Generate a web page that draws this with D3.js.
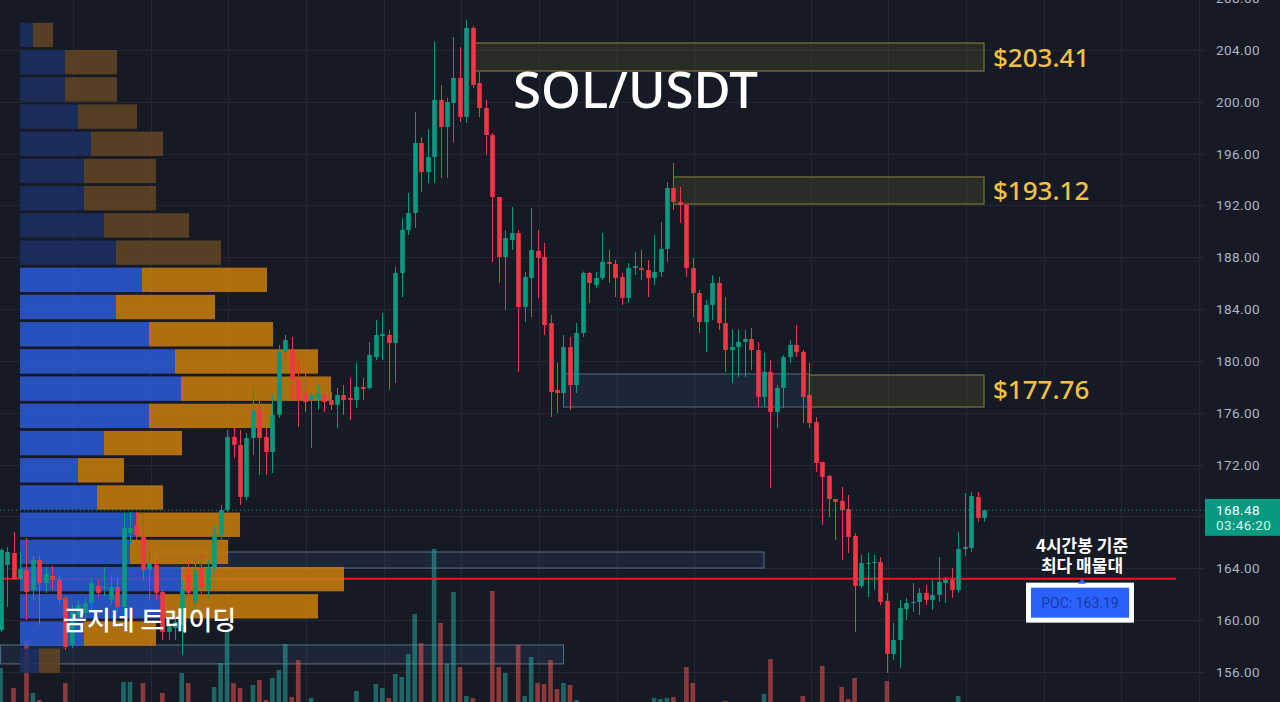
<!DOCTYPE html>
<html>
<head>
<meta charset="utf-8">
<script src="https://cdn.jsdelivr.net/npm/d3@7"></script>
<style>
  html, body { margin: 0; padding: 0; background: #161a25; overflow: hidden; }
  svg { display: block; }
</style>
</head>
<body>
<svg id="chart" width="1280" height="702"></svg>
<script>
// ---- SOL/USDT 4h candles (oldest -> newest) ----
const opens = [
  159.23,164.25,165.17,163.24,163.86,162.32,164.63,162.86,163.40,163.09,
  161.70,158.07,160.39,160.54,161.31,162.63,162.47,161.55,162.55,161.01,
  166.72,167.33,166.41,163.86,164.25,162.16,159.08,159.38,159.62,163.48,
  161.31,164.09,162.32,164.09,166.56,168.49,174.13,173.51,169.50,174.05,
  176.21,174.13,172.97,175.83,180.69,180.84,178.53,177.52,176.98,176.98,
  177.37,176.98,176.60,177.37,177.14,176.98,177.99,177.91,180.30,181.92,
  182.00,181.38,186.79,190.11,191.42,196.82,194.58,195.74,200.14,198.06,
  199.91,201.84,198.83,205.70,201.45,199.52,197.44,192.65,188.02,189.33,
  189.87,184.16,186.40,188.49,188.02,182.92,177.76,177.52,181.07,178.14,
  182.15,186.79,185.86,186.40,187.64,187.48,186.48,184.86,187.17,187.17,
  187.02,186.40,186.86,188.64,193.35,192.27,192.04,187.17,185.24,183.00,
  184.32,186.02,182.92,180.84,181.07,181.46,181.69,180.84,177.22,179.15,
  176.06,177.91,180.30,181.23,180.69,177.37,175.28,172.20,171.12,169.34,
  169.19,168.57,166.49,162.63,164.32,164.40,164.48,161.47,157.38,158.46,
  160.85,161.31,161.39,162.09,161.55,161.93,162.86,163.09,162.32,165.48,
  165.56,169.50,167.88
];
const highs = [
  165.56,165.64,166.79,165.25,166.33,164.94,164.94,164.09,164.17,163.40,
  161.85,161.16,161.55,161.70,163.24,163.09,164.09,163.48,163.24,168.26,
  168.34,168.34,168.26,165.40,164.63,162.32,160.00,160.77,163.09,164.40,
  164.63,165.02,164.63,167.33,168.88,174.67,174.82,174.67,174.44,178.14,
  176.98,174.82,177.37,181.23,182.00,181.85,180.07,179.07,177.60,178.14,
  177.52,177.60,177.91,178.14,178.68,179.84,178.68,181.46,183.16,183.70,
  182.39,187.25,191.03,192.96,199.21,197.28,197.83,204.62,201.30,200.30,
  205.00,204.23,206.32,205.85,202.30,200.14,197.59,192.65,190.11,191.88,
  190.11,186.86,191.80,190.11,189.10,183.54,179.84,182.00,181.85,182.92,
  186.90,186.86,186.86,189.87,188.56,187.79,186.79,187.56,188.41,188.56,
  187.79,189.72,190.72,193.81,195.28,193.43,192.10,187.94,185.47,184.70,
  186.63,186.48,184.93,182.39,182.39,182.39,182.54,181.46,180.61,180.07,
  178.14,180.46,181.61,182.77,180.84,179.84,175.67,172.20,171.19,169.34,
  170.27,169.65,166.72,165.02,165.17,165.02,164.86,162.09,159.77,161.55,
  161.70,162.86,162.47,162.70,163.09,164.86,163.32,164.01,166.79,169.80,
  169.88,169.88,168.49
];
const lows = [
  159.08,161.01,163.09,163.09,160.00,161.55,159.62,162.09,162.32,161.16,
  157.69,157.84,160.00,160.23,160.77,161.78,161.78,161.16,160.62,160.23,
  165.79,166.18,163.09,161.55,161.55,158.46,158.46,158.46,157.30,161.70,
  160.62,161.93,161.70,163.71,166.18,168.34,172.51,168.88,169.26,172.74,
  171.19,171.19,171.35,175.59,180.07,176.98,174.90,176.06,173.28,176.21,
  176.06,176.21,174.82,175.83,175.44,176.37,176.98,177.76,180.07,180.07,
  177.76,178.30,184.93,189.72,190.26,193.04,193.73,193.73,194.12,194.12,
  196.90,198.44,198.37,201.07,198.83,195.89,187.64,186.02,183.93,188.56,
  179.15,183.00,183.39,184.86,182.00,175.67,175.98,176.75,176.21,177.52,
  181.85,184.47,185.63,186.25,186.02,184.93,184.32,184.47,186.63,186.25,
  184.93,185.86,186.48,187.64,191.65,190.65,186.48,183.39,182.15,180.69,
  183.16,182.39,179.15,178.30,178.76,178.76,179.30,176.44,176.44,170.19,
  174.82,176.37,179.84,180.30,175.21,174.82,171.43,167.33,167.95,166.18,
  164.63,165.17,159.08,162.47,161.78,162.32,161.16,155.91,156.91,156.30,
  160.00,160.62,160.39,161.16,160.77,161.39,161.31,161.70,162.09,164.94,
  165.25,167.57,167.57
];
const closes = [
  165.40,165.25,163.17,163.94,162.16,164.63,162.86,163.55,163.09,161.55,
  157.92,160.62,161.16,161.31,162.86,162.09,162.55,162.55,161.01,167.10,
  167.10,166.56,163.86,164.40,162.09,159.08,159.46,159.85,162.32,162.09,
  163.86,162.47,164.01,166.56,168.49,174.13,173.51,169.50,174.05,176.21,
  174.05,172.97,175.83,180.69,181.61,178.53,176.98,176.83,177.37,177.52,
  176.83,176.60,177.37,176.98,176.98,177.99,177.83,180.46,182.00,182.08,
  181.38,186.79,190.11,191.42,196.82,194.58,195.74,200.14,198.06,199.99,
  201.84,198.83,205.70,201.30,199.52,197.44,192.65,188.02,189.49,189.87,
  184.16,186.48,188.56,187.94,182.77,177.60,177.52,181.07,178.14,182.15,
  186.79,186.02,186.40,187.64,187.48,186.40,184.86,187.17,187.33,187.02,
  186.40,186.86,188.64,193.35,192.27,192.04,187.17,185.24,183.00,184.32,
  186.02,182.92,180.84,181.07,181.46,181.69,180.84,177.22,179.15,176.06,
  177.91,180.30,181.23,180.69,177.22,175.21,172.12,171.04,169.34,169.11,
  168.49,166.41,162.63,164.40,164.40,164.48,161.39,157.38,158.46,160.93,
  161.31,161.39,162.09,161.55,161.93,162.94,163.09,162.32,165.48,165.64,
  169.57,167.88,168.48
];
// traded volume per candle (K SOL)
const volumes = [
  44,6,24,7,72,19,12,5,6,8,
  29,7,5,6,8,4,6,5,7,30,
  30,8,29,6,9,19,5,7,39,29,
  8,6,9,25,49,82,29,24,9,27,
  32,12,34,42,68,15,52,8,14,6,
  5,7,8,6,5,21,7,9,28,24,
  14,38,35,58,98,69,9,163,89,48,
  120,45,16,14,9,8,121,45,39,8,
  67,16,55,29,28,52,23,29,27,12,
  9,6,5,7,5,6,8,7,4,5,
  6,14,13,14,15,9,45,29,8,7,
  6,9,11,5,4,6,7,9,18,53,
  8,7,5,6,16,9,8,46,9,7,
  25,13,34,8,6,5,9,31,8,9,
  6,5,7,6,5,8,6,7,16,9,
  9,8,4
];

// ---- session volume profile, 24 price rows from lowest to highest ----
const profileUp   = [19,64,144,161,110,116,77,58,84,129,161,155,129,96,122,96,84,64,64,71,58,45,45,13];
const profileDown = [21,72,154,163,98,104,66,46,78,123,150,143,124,99,125,105,85,72,72,72,59,52,52,20];
const valueAreaShare = 0.70;
const pocValue = 163.19;

// ---- price axis ticks and day separators (candle index) ----
const priceTicks = [156,160,164,168,172,176,180,184,188,192,196,200,204,208];
const dayBreaks = [11.2,23.2,35.2,47.2,59.2,71.2,83.2,95.2,107.2,125.2,137.2,149.2,161.2,173.2,185.2];

// ---- marked zones (start candle index, price low, price high) ----
const resistanceZones = [
  { from: 73,  low: 202.38, high: 204.54, label: 203.41 },
  { from: 104, low: 192.11, high: 194.20, label: 193.12 },
  { from: 125, low: 176.44, high: 178.91, label: 177.76 }
];
const supportZones = [
  { from: 87, to: 125, low: 176.44, high: 178.99 },
  { from: 24, to: 118, low: 164.01, high: 165.25 },
  { from: 0,  to: 87,  low: 156.61, high: 158.07 }
];

const symbolName = "SOL/USDT";
const brandName = "곰지네 트레이딩";
const pocNote = ["4시간봉 기준", "최다 매물대"];
const countdown = "03:46:20";

// ---------------------------------------------------------------
const W = 1280, H = 702;
const axisLeft = 1205;
const N = closes.length;
const UP = "#089981", DOWN = "#f23645";
const latin = "'Noto Sans', 'Open Sans', sans-serif";
const korean = "'Noto Sans CJK KR', 'Noto Sans', sans-serif";
const axisFont = "Roboto, 'Noto Sans', sans-serif";

const svg = d3.select("#chart");
svg.append("rect").attr("width", W).attr("height", H).attr("fill", "#161a25");

const x = d3.scaleLinear().domain([0, N - 1]).range([0.6, 984]);
const y = d3.scaleLinear().domain([156, 204]).range([671.8, 50]);
const vy = d3.scaleLinear().domain([0, d3.max(volumes)]).range([712, 549]);
const bodyW = 4.6;

// grid
const grid = svg.append("g").attr("stroke", "#232734").attr("stroke-width", 1);
grid.selectAll("line.h").data(priceTicks).join("line")
  .attr("x1", 0).attr("x2", axisLeft)
  .attr("y1", d => Math.round(y(d)) + 0.5).attr("y2", d => Math.round(y(d)) + 0.5);
grid.selectAll("line.v").data(dayBreaks).join("line")
  .attr("y1", 0).attr("y2", H)
  .attr("x1", d => Math.round(x(d)) + 0.5).attr("x2", d => Math.round(x(d)) + 0.5);

// zones
const zones = svg.append("g");
zones.selectAll("rect.sup").data(supportZones).join("rect")
  .attr("x", d => x(d.from)).attr("width", d => x(d.to) - x(d.from))
  .attr("y", d => y(d.high)).attr("height", d => y(d.low) - y(d.high))
  .attr("fill", "rgba(52,90,140,0.20)").attr("stroke", "#566d86").attr("stroke-width", 1);
zones.selectAll("rect.res").data(resistanceZones).join("rect")
  .attr("x", d => x(d.from)).attr("width", d => x(N - 1) - x(d.from))
  .attr("y", d => y(d.high)).attr("height", d => y(d.low) - y(d.high))
  .attr("fill", "rgba(120,115,40,0.20)").attr("stroke", "#8a873c").attr("stroke-width", 1);

// volume histogram
const candles = d3.range(N).map(i => ({
  i, o: opens[i], h: highs[i], l: lows[i], c: closes[i], v: volumes[i], up: closes[i] >= opens[i]
}));
svg.append("g").selectAll("rect").data(candles).join("rect")
  .attr("x", d => x(d.i) - bodyW / 2).attr("width", bodyW)
  .attr("y", d => vy(d.v)).attr("height", d => vy(0) - vy(d.v))
  .attr("fill", d => d.up ? "#26a69a" : "#ef5350").attr("opacity", 0.55);

// point of control line
svg.append("line")
  .attr("x1", 0).attr("x2", 1176)
  .attr("y1", y(pocValue)).attr("y2", y(pocValue))
  .attr("stroke", "#f0141e").attr("stroke-width", 2);

// volume profile rows
const pLow = d3.min(lows), pHigh = d3.max(highs);
const rows = profileUp.length;
const rowSize = (pHigh - pLow) / rows;
const totals = profileUp.map((u, k) => u + profileDown[k]);
const pocRow = d3.maxIndex(totals);
// value area: grow from the POC row toward the heavier neighbour until the share is reached
let lo = pocRow, hi = pocRow, acc = totals[pocRow];
const target = d3.sum(totals) * valueAreaShare;
while (acc < target && (lo > 0 || hi < rows - 1)) {
  const below = lo > 0 ? totals[lo - 1] : -1;
  const above = hi < rows - 1 ? totals[hi + 1] : -1;
  if (above >= below) { hi++; acc += totals[hi]; } else { lo--; acc += totals[lo]; }
}
const px = d3.scaleLinear().domain([0, d3.max(totals)]).range([0, 324]);
const profLeft = 20;
const profRows = d3.range(rows).map(k => ({
  k, up: profileUp[k], down: profileDown[k],
  top: y(pLow + (k + 1) * rowSize), bottom: y(pLow + k * rowSize),
  inVA: k >= lo && k <= hi
}));
const prof = svg.append("g").attr("opacity", 0.86);
prof.selectAll("rect.up").data(profRows).join("rect")
  .attr("x", profLeft).attr("width", d => px(d.up))
  .attr("y", d => d.top + 2.8).attr("height", d => d.bottom - d.top - 2.8)
  .attr("fill", d => d.inVA ? "#2b5ad8" : "#1d2f63");
prof.selectAll("rect.down").data(profRows).join("rect")
  .attr("x", d => profLeft + px(d.up)).attr("width", d => px(d.down))
  .attr("y", d => d.top + 2.8).attr("height", d => d.bottom - d.top - 2.8)
  .attr("fill", d => d.inVA ? "#c97d0c" : "#614622");

// candles
const cg = svg.append("g");
cg.selectAll("line").data(candles).join("line")
  .attr("x1", d => Math.round(x(d.i)) + 0.5).attr("x2", d => Math.round(x(d.i)) + 0.5)
  .attr("y1", d => y(d.h)).attr("y2", d => y(d.l))
  .attr("stroke", d => d.up ? UP : DOWN).attr("stroke-width", 1);
cg.selectAll("rect").data(candles).join("rect")
  .attr("x", d => Math.round(x(d.i)) + 0.5 - bodyW / 2).attr("width", bodyW)
  .attr("y", d => y(Math.max(d.o, d.c)))
  .attr("height", d => Math.max(1, Math.abs(y(d.o) - y(d.c))))
  .attr("fill", d => d.up ? UP : DOWN);

// last price dotted line
const last = closes[N - 1];
svg.append("line")
  .attr("x1", 0).attr("x2", axisLeft)
  .attr("y1", y(last)).attr("y2", y(last))
  .attr("stroke", UP).attr("stroke-width", 1).attr("stroke-dasharray", "1,3");

// zone labels
svg.append("g").selectAll("text").data(resistanceZones).join("text")
  .attr("x", x(N - 1) + 9).attr("y", d => y(d.label) + 9)
  .attr("fill", "#f3c146").attr("font-family", latin).attr("font-size", 26).attr("font-weight", 500)
  .text(d => "$" + d.label.toFixed(2));

// price axis (the tick under the last-price tag stays hidden by it)
const tagTop = y(last) - 11.3, tagH = 37;
const visibleTicks = priceTicks.filter(t => y(t) < tagTop - 6 || y(t) > tagTop + tagH + 6);
svg.append("g").selectAll("text").data(visibleTicks).join("text")
  .attr("x", 1216).attr("y", d => y(d) + 5)
  .attr("fill", "#b2b5be").attr("font-family", axisFont).attr("font-size", 13.5)
  .attr("letter-spacing", 0.4)
  .text(d => d.toFixed(2));

// last price tag
svg.append("rect").attr("x", axisLeft).attr("y", tagTop).attr("width", W - axisLeft).attr("height", tagH)
  .attr("fill", UP);
const tag = svg.append("text").attr("font-family", axisFont).attr("font-size", 13.5).attr("letter-spacing", 0.4);
tag.append("tspan").attr("x", 1216).attr("y", tagTop + 16).attr("fill", "#ffffff").text(last.toFixed(2));
tag.append("tspan").attr("x", 1216).attr("y", tagTop + 31).attr("fill", "#d4f3ec").text(countdown);

// POC annotation
const pocY = y(pocValue);
const noteX = 1082;
const note = svg.append("text")
  .attr("text-anchor", "middle").attr("fill", "#ffffff")
  .attr("font-family", korean).attr("font-size", 17).attr("font-weight", 700);
note.selectAll("tspan").data(pocNote).join("tspan")
  .attr("x", noteX).attr("y", (d, i) => pocY - 27 + i * 20)
  .text(d => d);
svg.append("rect").attr("x", 1028.5).attr("y", pocY + 6.5).attr("width", 103).attr("height", 35)
  .attr("fill", "#2962ff").attr("stroke", "#ffffff").attr("stroke-width", 5);
svg.append("path")
  .attr("d", `M${noteX - 4},${pocY + 5} L${noteX},${pocY} L${noteX + 4},${pocY + 5} Z`)
  .attr("fill", "#2962ff");
svg.append("text").attr("x", 1080).attr("y", pocY + 29)
  .attr("text-anchor", "middle").attr("fill", "#1b3a9c")
  .attr("font-family", axisFont).attr("font-size", 14)
  .text("POC: " + pocValue.toFixed(2));

// titles
svg.append("text").attr("x", 513).attr("y", 108)
  .attr("fill", "#ffffff").attr("font-family", latin).attr("font-size", 51).attr("font-weight", 500)
  .text(symbolName);
svg.append("text").attr("x", 63).attr("y", 630)
  .attr("fill", "#ffffff").attr("font-family", korean).attr("font-size", 26).attr("font-weight", 500)
  .text(brandName);
</script>
</body>
</html>
